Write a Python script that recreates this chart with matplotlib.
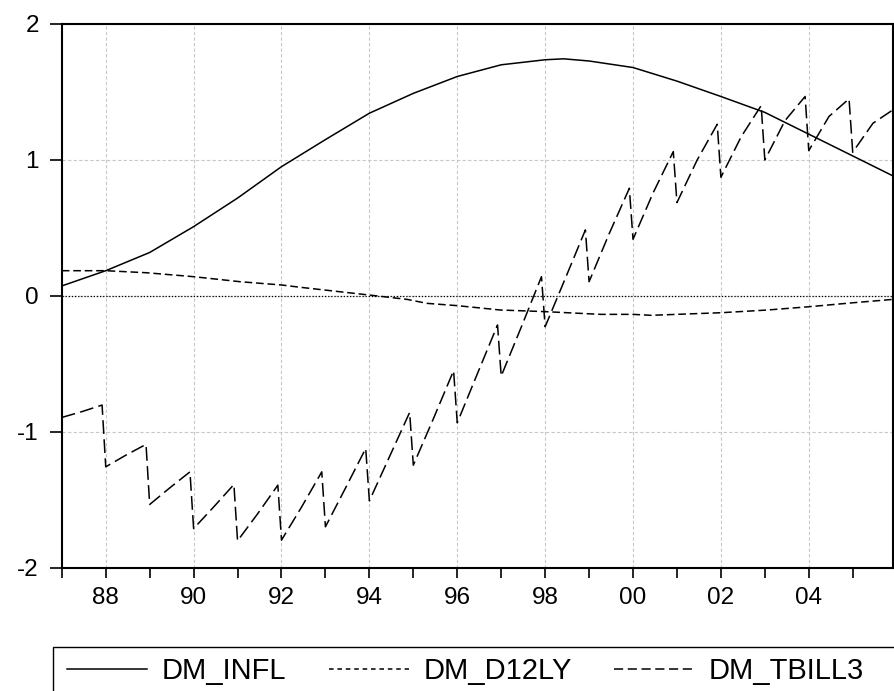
import matplotlib
matplotlib.use('Agg')
import matplotlib.pyplot as plt
from matplotlib.patches import Rectangle
from matplotlib.lines import Line2D

plt.rcParams['font.family'] = ['Liberation Sans', 'DejaVu Sans']

# DM_INFL (anos decimais)
infl_t = [1987.0, 1988.0, 1989.0, 1990.0, 1991.0, 1992.0, 1993.0, 1994.0, 1995.0,
          1996.0, 1997.0, 1998.0, 1998.42, 1999.0, 2000.0, 2001.0, 2002.0, 2003.0,
          2004.0, 2005.0, 2005.917]
infl_v = [0.074, 0.186, 0.32, 0.51, 0.72, 0.951, 1.15, 1.344, 1.49,
          1.614, 1.70, 1.737, 1.744, 1.728, 1.68, 1.58, 1.467, 1.35,
          1.19, 1.03, 0.883]

# DM_D12LY
d12_t = [1987.0, 1988.0, 1988.93, 1990.0, 1991.06, 1992.0, 1992.43, 1994.0, 1994.86,
         1995.31, 1996.0, 1996.98, 1998.0, 1999.26, 2000.0, 2000.41, 2002.0, 2003.06,
         2004.0, 2005.03, 2005.917]
d12_v = [0.186, 0.186, 0.171, 0.142, 0.105, 0.081, 0.064, 0.007, -0.025,
         -0.054, -0.071, -0.103, -0.115, -0.135, -0.135, -0.142, -0.123, -0.103,
         -0.079, -0.049, -0.025]

# DM_TBILL3: um dente de serra por ano (jan, meio do ano, dez)
years = list(range(1987, 2006))
tbill_jan = [-0.893, -1.256, -1.533, -1.71, -1.80, -1.795, -1.697, -1.506, -1.244, -0.932,
             -0.589, -0.226, 0.105, 0.417, 0.687, 0.873, 1.0, 1.069, 1.057]
tbill_mid = [-0.85, -1.17, -1.41, -1.55, -1.60, -1.55, -1.41, -1.18, -0.90, -0.57,
             -0.226, 0.13, 0.46, 0.76, 1.0, 1.17, 1.29, 1.32, 1.27]
tbill_dec = [-0.802, -1.091, -1.293, -1.386, -1.391, -1.293, -1.121, -0.856, -0.549, -0.213,
             0.142, 0.486, 0.792, 1.062, 1.263, 1.40, 1.467, 1.45, 1.369]

tick_years = list(range(1988, 2005, 2))
tick_labels = ['88', '90', '92', '94', '96', '98', '00', '02', '04']

tbill_t, tbill_v = [], []
for y, a, b, c in zip(years, tbill_jan, tbill_mid, tbill_dec):
    tbill_t += [y, y + 0.46, y + 11 / 12]
    tbill_v += [a, b, c]

W, H = 894, 691
fig = plt.figure(figsize=(W / 100, H / 100), dpi=100)
ax = fig.add_axes([61.8 / W, 1 - 568 / H, (893 - 61.8) / W, (568 - 24) / H])

lw = 1.1
ax.plot(infl_t, infl_v, color='black', lw=lw, label='DM_INFL')
ax.plot(d12_t, d12_v, color='black', lw=lw, dashes=(5, 2.5), label='DM_D12LY')
ax.plot(tbill_t, tbill_v, color='black', lw=lw, dashes=(9, 3.5), label='DM_TBILL3')
ax.axhline(0, color='black', lw=0.9, linestyle=(0, (1, 1.5)), zorder=1)

ax.set_xlim(1987.0, 2005.917)
ax.set_ylim(-2, 2)
ax.set_xticks(tick_years)
ax.set_xticklabels(tick_labels)
ax.set_xticks(years, minor=True)
ax.set_yticks([-2, -1, 0, 1, 2])
ax.set_yticklabels(['-2', '-1', '0', '1', '2'])

ax.grid(True, color='#c8c8c8', linestyle=(0, (3, 2)), lw=0.8)
ax.set_axisbelow(True)
for s in ax.spines.values():
    s.set_linewidth(1.5)
ax.tick_params(axis='x', which='both', direction='out', length=7.5, width=1.2, labelsize=17.5, pad=6)
ax.tick_params(axis='x', which='minor', labelbottom=False)
ax.tick_params(axis='y', direction='out', length=8.5, width=1.2, labelsize=17.5, pad=8)

handles = [Line2D([], [], color='black', lw=lw),
           Line2D([], [], color='black', lw=lw, dashes=(3, 2.5)),
           Line2D([], [], color='black', lw=lw, dashes=(6, 3))]
fig.legend(handles, ['DM_INFL', 'DM_D12LY', 'DM_TBILL3'], loc='center left',
           bbox_to_anchor=(67 / W, 1 - 671 / H), ncol=3, frameon=False, fontsize=21,
           borderpad=0, borderaxespad=0, handlelength=2.74, handletextpad=0.51,
           columnspacing=1.45)
fig.patches.append(Rectangle((53 / W, -0.05), 1.0, 1 - 647 / H + 0.05,
                             transform=fig.transFigure, fill=False, ec='black', lw=1.0))

fig.savefig('out.png', dpi=100)
